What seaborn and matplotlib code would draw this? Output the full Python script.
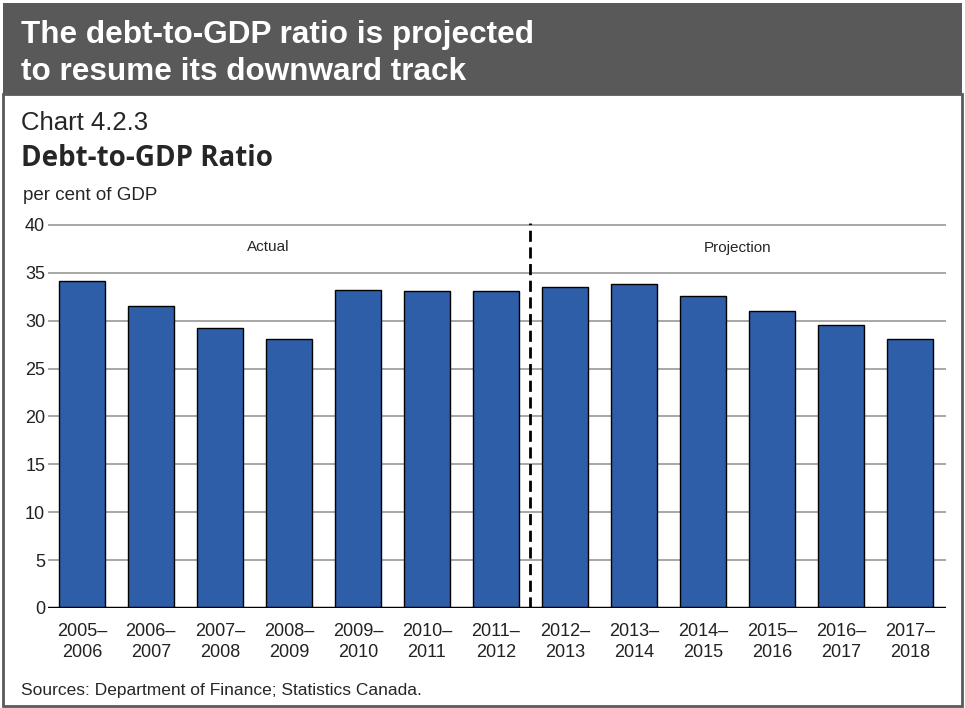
import matplotlib
matplotlib.use("Agg")
import matplotlib.pyplot as plt
from matplotlib import font_manager
from matplotlib.patches import Rectangle
import seaborn as sns
import pandas as pd

# Fiscal years and debt-to-GDP (per cent)
start_years = [2005, 2006, 2007, 2008, 2009, 2010, 2011,
               2012, 2013, 2014, 2015, 2016, 2017]
debt_ratio = [34.1, 31.5, 29.2, 28.1, 33.2, 33.1, 33.1,
              33.5, 33.8, 32.6, 31.0, 29.6, 28.1]
periods = [f"{y}–{y + 1}" for y in start_years]
tick_labels = [f"{y}–\n{y + 1}" for y in start_years]
yticks = [0, 5, 10, 15, 20, 25, 30, 35, 40]

df = pd.DataFrame({"period": periods, "ratio": debt_ratio})

sns.set_style("white")
installed = {f.name for f in font_manager.fontManager.ttflist}
narrow = "Liberation Sans Narrow" if "Liberation Sans Narrow" in installed else "Liberation Sans"
plt.rcParams["font.family"] = ["Liberation Sans", "DejaVu Sans"]

BAR_BLUE = "#2f5ea8"
W, H = 965, 708
fig = plt.figure(figsize=(W / 100, H / 100), dpi=100)

# dark banner on top, grey frame round the rest
fig.patches.append(Rectangle((3 / W, 1 - 94 / H), 959 / W, 91 / H, transform=fig.transFigure,
                             facecolor="#595959", edgecolor="none", zorder=0))
fig.patches.append(Rectangle((3 / W, 2 / H), 959 / W, (706 - 94) / H,
                             transform=fig.transFigure, facecolor="none",
                             edgecolor="#5a5a5a", linewidth=2, zorder=0))

fig.text(21 / W, 1 - 43 / H, "The debt-to-GDP ratio is projected",
         color="white", fontsize=22.7, fontweight="bold", va="baseline", ha="left")
fig.text(21 / W, 1 - 80 / H, "to resume its downward track",
         color="white", fontsize=22.7, fontweight="bold", va="baseline", ha="left")
fig.text(21 / W, 1 - 130 / H, "Chart 4.2.3", fontsize=18.5, va="baseline", ha="left")
fig.text(21 / W, 1 - 166 / H, "Debt-to-GDP Ratio", fontsize=20, fontweight="bold",
         family=["Open Sans", "DejaVu Sans"], va="baseline", ha="left")
fig.text(23 / W, 1 - 200 / H, "per cent of GDP", fontsize=13.5, va="baseline", ha="left")
fig.text(21 / W, 1 - 695 / H, "Sources: Department of Finance; Statistics Canada.",
         fontsize=12.5, family=[narrow, "DejaVu Sans"], va="baseline", ha="left")

ax = fig.add_axes([48 / W, 1 - 608 / H, 898 / W, 385 / H])
sns.barplot(data=df, x="period", y="ratio", color=BAR_BLUE, saturation=1,
            edgecolor="black", linewidth=1, width=0.67, ax=ax, zorder=3)

ax.set_xlim(-0.49, 12.52)
ax.set_ylim(0, 40.2)
ax.set_yticks(yticks)
ax.set_yticklabels([str(t) for t in yticks])
ax.set_xticks(range(len(tick_labels)))
ax.set_xticklabels(tick_labels, linespacing=1.3)
ax.tick_params(axis="both", length=0, labelsize=13, colors="#222222")
ax.tick_params(axis="x", pad=11)
ax.tick_params(axis="y", pad=2)
ax.set_xlabel("")
ax.set_ylabel("")
for side in ["top", "right", "left", "bottom"]:
    ax.spines[side].set_visible(False)

for t in yticks[1:]:
    ax.axhline(t, color="#a0a0a0", linewidth=1.3, zorder=1)
ax.axhline(0, color="black", linewidth=2.5, zorder=4)
ax.axvline(6.5, color="black", linestyle=(0, (4, 2)), linewidth=2, zorder=4)

ax.text(2.7, 37.7, "Actual", fontsize=11, ha="center", va="center")
ax.text(9.5, 37.6, "Projection", fontsize=11, ha="center", va="center")

fig.savefig("out.png", dpi=100)
